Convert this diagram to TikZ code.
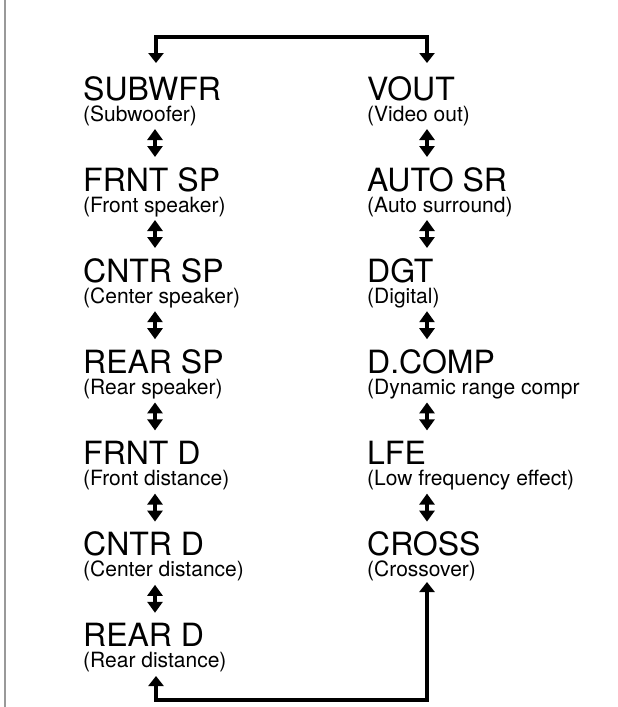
\documentclass[tikz,border=0pt]{standalone}
\usepackage{fontspec}
\setmainfont{TeX Gyre Heros}
\usetikzlibrary{arrows.meta}
\tikzset{
  ttl/.style={anchor=base west, inner sep=0pt, font=\fontsize{32}{32}\selectfont},
  sub/.style={anchor=base west, inner sep=0pt, font=\fontsize{21}{21}\selectfont},
  loopline/.style={line width=4.5pt, line join=miter,
     {Triangle[width=15pt,length=10pt]}-{Triangle[width=15pt,length=10pt]}},
  dblarrow/.style={line width=4pt,
     {Triangle[width=15pt,length=11pt]}-{Triangle[width=15pt,length=11pt]}}
}
\begin{document}
\begin{tikzpicture}[x=1pt,y=-1pt]
\useasboundingbox (0,0) rectangle (618,707);
\fill[white] (0,0) rectangle (618,707);
\draw[line width=2pt, gray!80] (5,0) -- (5,707);
% left column
\def\lx{83}
\def\rx{367}
\node[ttl] (l0) at (\lx,100) {SUBWFR};
\node[sub] (l0s) at (\lx,121) {(Subwoofer)};
\node[ttl] (l1) at (\lx,191) {FRNT SP};
\node[sub] (l1s) at (\lx,212) {(Front speaker)};
\node[ttl] (l2) at (\lx,282.2) {CNTR SP};
\node[sub] (l2s) at (\lx,303.2) {(Center speaker)};
\node[ttl] (l3) at (\lx,373.4) {REAR SP};
\node[sub] (l3s) at (\lx,394.4) {(Rear speaker)};
\node[ttl] (l4) at (\lx,464.6) {FRNT D};
\node[sub] (l4s) at (\lx,485.6) {(Front distance)};
\node[ttl] (l5) at (\lx,555.8) {CNTR D};
\node[sub] (l5s) at (\lx,576.8) {(Center distance)};
\node[ttl] (l6) at (\lx,646) {REAR D};
\node[sub] (l6s) at (\lx,667) {(Rear distance)};
% right column
\node[ttl] (r0) at (\rx,100) {VOUT};
\node[sub] (r0s) at (\rx,121) {(Video out)};
\node[ttl] (r1) at (\rx,191) {AUTO SR};
\node[sub] (r1s) at (\rx,212) {(Auto surround)};
\node[ttl] (r2) at (\rx,282.2) {DGT};
\node[sub] (r2s) at (\rx,303.2) {(Digital)};
\node[ttl] (r3) at (\rx,373.4) {D.COMP};
\node[sub] (r3s) at (\rx,394.4) {(Dynamic range compr};
\node[ttl] (r4) at (\rx,464.6) {LFE};
\node[sub] (r4s) at (\rx,485.6) {(Low frequency effect)};
\node[ttl] (r5) at (\rx,555.8) {CROSS};
\node[sub] (r5s) at (\rx,576.8) {(Crossover)};
% double arrows
\foreach \k/\b in {0/100,1/191,2/282.2,3/373.4,4/464.6,5/555.8}{
  \coordinate (la\k) at (155,\b+29);
  \coordinate (lb\k) at (155,\b+57);
  \draw[dblarrow] (la\k) -- (lb\k);
}
\foreach \k/\b in {0/100,1/191,2/282.2,3/373.4,4/464.6}{
  \coordinate (ra\k) at (427,\b+29);
  \coordinate (rb\k) at (427,\b+57);
  \draw[dblarrow] (ra\k) -- (rb\k);
}
% top loop
\coordinate (tl) at (156,63);
\coordinate (tr) at (427,63);
\draw[loopline] (tl) -- (156,37) -- (427,37) -- (tr);
% bottom loop
\coordinate (bl) at (156,676);
\coordinate (br) at (427,582);
\draw[loopline] (bl) -- (156,700) -- (427,700) -- (br);
\end{tikzpicture}
\end{document}
